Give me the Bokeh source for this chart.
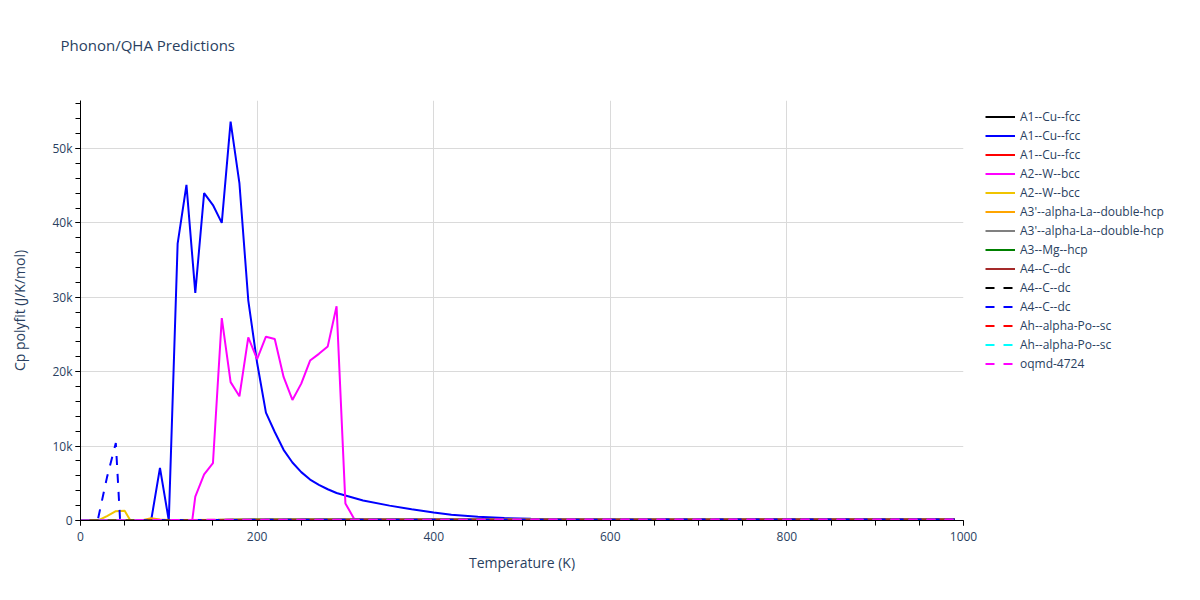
from bokeh.plotting import figure
from bokeh.layouts import row
from bokeh.models import (Legend, LegendItem, Range1d, SingleIntervalTicker,
                          NumeralTickFormatter, Title)
from bokeh.embed import file_html
from bokeh.resources import INLINE

# ---------------- data ----------------
labels = ["A1--Cu--fcc", "A1--Cu--fcc", "A1--Cu--fcc", "A2--W--bcc", "A2--W--bcc",
          "A3'--alpha-La--double-hcp", "A3'--alpha-La--double-hcp", "A3--Mg--hcp",
          "A4--C--dc", "A4--C--dc", "A4--C--dc", "Ah--alpha-Po--sc",
          "Ah--alpha-Po--sc", "oqmd-4724"]
colors = ["black", "blue", "red", "magenta", "#F0C400", "orange", "gray", "green",
          "brown", "black", "blue", "red", "cyan", "magenta"]
dashes = ["solid"] * 9 + ["9 9"] * 5

# near-zero traces share a coarse temperature grid
T_flat = [0, 50, 100, 150, 200, 300, 400, 500, 600, 700, 800, 900, 990]

cu_fcc_1 = [0, 30, 60, 80, 90, 100, 105, 110, 110, 115, 115, 115, 115]

T_cu_fcc_2 = [0, 20, 40, 60, 80, 90, 100, 110, 120, 130, 140, 150, 160, 170, 180,
              190, 200, 210, 220, 230, 240, 250, 260, 270, 280, 290, 300, 320,
              350, 375, 400, 420, 450, 480, 510, 550, 600, 700, 800, 900, 990]
cu_fcc_2 = [0, 0, 0, 0, 0, 7080, 0, 37200, 45100, 30600, 44000, 42400, 40000,
            53600, 45300, 29600, 21200, 14500, 11900, 9500, 7800, 6500, 5500,
            4800, 4200, 3700, 3350, 2700, 2000, 1500, 1080, 780, 500, 330, 220,
            150, 120, 110, 110, 110, 110]

cu_fcc_3 = [0, 25, 55, 75, 85, 95, 100, 105, 105, 110, 110, 110, 110]

T_w_bcc_1 = [0, 50, 100, 110, 120, 130, 140, 150, 160, 170, 180, 190, 200, 210,
             220, 230, 240, 250, 260, 270, 280, 290, 300, 310, 350, 400, 500, 600,
             700, 800, 900, 990]
w_bcc_1 = [0, 0, 0, 0, -6000, 3200, 6200, 7700, 27200, 18600, 16700, 24600,
           21700, 24700, 24400, 19300, 16200, 18400, 21500, 22400, 23400, 28800,
           2300, 200, 130, 120, 120, 120, 120, 120, 120, 120]

T_w_bcc_2 = [0, 10, 20, 30, 40, 50, 60, 70, 100, 200, 300, 400, 500, 600, 700, 800,
             900, 990]
w_bcc_2 = [0, 0, 0, 600, 1250, 1300, -700, 0, 60, 90, 100, 100, 105, 105, 105, 105,
           105, 105]

T_la_1 = [0, 50, 70, 80, 90, 100, 150, 200, 300, 400, 500, 600, 700, 800, 900, 990]
la_1 = [0, 20, 40, 300, 150, 60, 80, 95, 105, 110, 115, 115, 120, 120, 120, 120]

la_2 = [0, 20, 50, 70, 85, 95, 100, 105, 105, 110, 110, 110, 110]
mg_hcp = [0, 30, 60, 75, 85, 95, 100, 100, 105, 105, 105, 105, 105]
c_dc_1 = [0, 10, 35, 60, 80, 95, 105, 110, 115, 115, 120, 120, 120]
c_dc_2 = [0, 10, 30, 55, 75, 95, 105, 110, 115, 115, 120, 120, 120]

T_c_dc_3 = [0, 10, 20, 30, 40, 50, 60, 100, 150, 200, 300, 400, 500, 600, 700, 800,
            900, 990]
c_dc_3 = [0, 0, 300, 5800, 10400, -11000, 0, 40, 70, 85, 100, 110, 115, 115, 120,
          120, 120, 120]

po_sc_1 = [0, 30, 60, 80, 90, 100, 105, 110, 110, 115, 115, 115, 115]
po_sc_2 = [0, 30, 60, 80, 90, 100, 105, 110, 110, 115, 115, 115, 115]
oqmd_4724 = [0, 40, 70, 90, 100, 110, 115, 120, 120, 125, 125, 125, 125]

series_T = [T_flat, T_cu_fcc_2, T_flat, T_w_bcc_1, T_w_bcc_2, T_la_1, T_flat, T_flat,
            T_flat, T_flat, T_c_dc_3, T_flat, T_flat, T_flat]
series_Y = [cu_fcc_1, cu_fcc_2, cu_fcc_3, w_bcc_1, w_bcc_2, la_1, la_2, mg_hcp,
            c_dc_1, c_dc_2, c_dc_3, po_sc_1, po_sc_2, oqmd_4724]

# ---------------- main figure ----------------
TXT = "#2a3f5f"
FONT = "Open Sans"

p = figure(frame_width=883, frame_height=420, title=None,
           x_range=Range1d(0, 1000), y_range=Range1d(0, 56450),
           output_backend="svg", toolbar_location=None,
           min_border_left=0, min_border_right=0, min_border_top=0,
           min_border_bottom=0, background_fill_color="white",
           border_fill_color="white", outline_line_color=None)


def gap(n):
    # blank title used only as a spacer in a side panel
    return Title(text=" ", text_font_size="1px", standoff=n)


# spacer between title and frame, then the title itself (further out)
p.add_layout(gap(11), "above")
p.add_layout(Title(text="Phonon/QHA Predictions", text_font=FONT,
                   text_font_size="15px", text_font_style="normal",
                   text_color=TXT, align="left", offset=-20, standoff=64),
             "above")

p.xaxis.ticker = SingleIntervalTicker(interval=200, num_minor_ticks=4)
p.yaxis.ticker = SingleIntervalTicker(interval=10000, num_minor_ticks=5)
p.yaxis.formatter = NumeralTickFormatter(format="0a")

for ax in (p.xaxis, p.yaxis):
    ax.axis_line_color = "black"
    ax.axis_line_width = 1
    ax.major_tick_line_color = "black"
    ax.minor_tick_line_color = "black"
    ax.major_tick_in = 0
    ax.major_tick_out = 5
    ax.minor_tick_in = 0
    ax.minor_tick_out = 5
    ax.major_label_text_font = FONT
    ax.major_label_text_font_size = "12px"
    ax.major_label_text_color = TXT
    ax.axis_label_text_font = FONT
    ax.axis_label_text_font_size = "14px"
    ax.axis_label_text_font_style = "normal"
    ax.axis_label_text_color = TXT

p.xaxis.axis_label = "Temperature (K)"
p.yaxis.axis_label = "Cp polyfit (J/K/mol)"
p.xaxis.major_label_standoff = 6
p.yaxis.major_label_standoff = 3
p.xaxis.axis_label_standoff = 9
p.yaxis.axis_label_standoff = 20

# spacers: left of the y-axis title, and right of the frame (room for "1000")
p.add_layout(gap(4), "left")
p.add_layout(gap(15), "right")

p.xgrid.grid_line_color = "#DADADA"
p.ygrid.grid_line_color = "#DADADA"

for T, Y, c, d in zip(series_T, series_Y, colors, dashes):
    p.line(T, Y, line_color=c, line_width=2, line_dash=d)

# ---------------- legend panel (separate canvas to the right) ----------------
# its ranges lie outside the data, so its lines only serve as legend keys
lg = figure(width=205, height=560, x_range=Range1d(-2, -1),
            y_range=Range1d(-2, -1),
            x_axis_location=None, y_axis_location=None, title=None,
            output_backend="svg", toolbar_location=None,
            min_border_left=0, min_border_right=0, min_border_top=0,
            min_border_bottom=0, outline_line_color=None,
            background_fill_color="white", border_fill_color="white")
lg.xgrid.visible = False
lg.ygrid.visible = False

items = []
for T, Y, c, d, lab in zip(series_T, series_Y, colors, dashes, labels):
    key = lg.line(T, Y, line_color=c, line_width=2, line_dash=d)
    items.append(LegendItem(label=lab, renderers=[key]))

legend = Legend(items=items, location=(4, 133),
                label_text_font=FONT, label_text_font_size="12px",
                label_text_color=TXT, glyph_width=30, glyph_height=19,
                label_height=19, spacing=0, padding=5, margin=0,
                label_standoff=5, border_line_color=None,
                background_fill_alpha=0)
lg.add_layout(legend, "center")

layout = row(p, lg, spacing=0)
open("out.html", "w").write(file_html(layout, INLINE))
